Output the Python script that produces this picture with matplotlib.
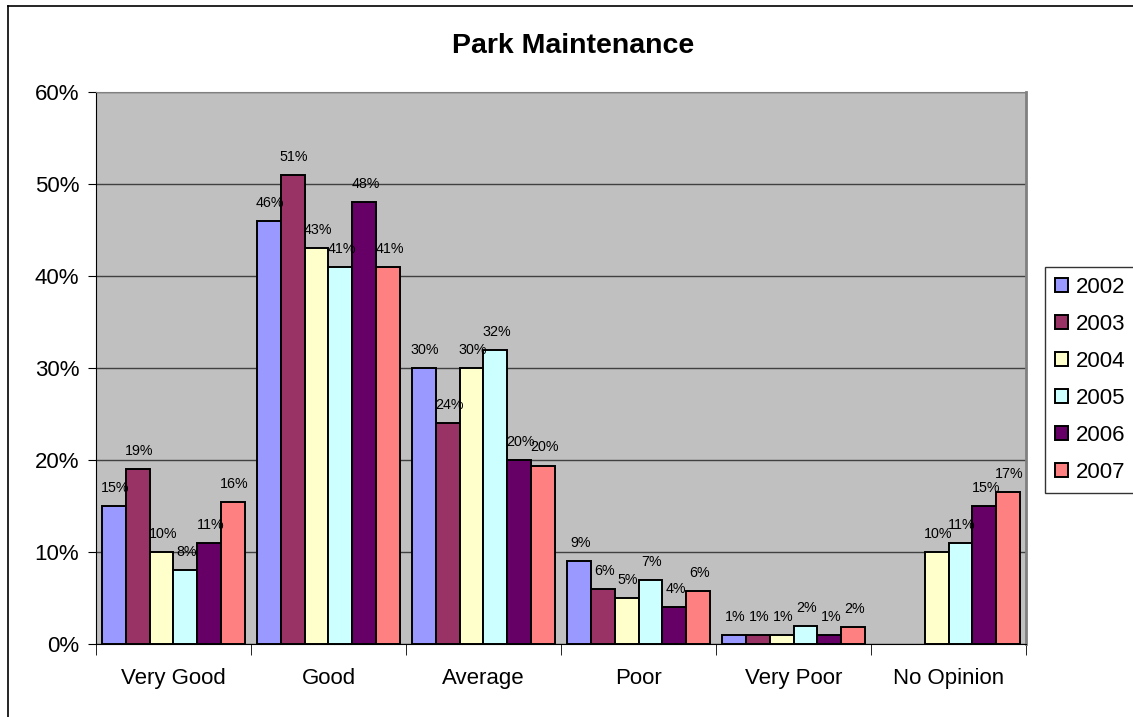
import numpy as np
import matplotlib.pyplot as plt
from matplotlib.lines import Line2D
from matplotlib.ticker import FixedLocator

plt.rcParams['font.family'] = ['Liberation Sans', 'DejaVu Sans']

categories = ['Very Good', 'Good', 'Average', 'Poor', 'Very Poor', 'No Opinion']
years = ['2002', '2003', '2004', '2005', '2006', '2007']

v2002 = [15, 46, 30, 9, 1, np.nan]
v2003 = [19, 51, 24, 6, 1, np.nan]
v2004 = [10, 43, 30, 5, 1, 10]
v2005 = [8, 41, 32, 7, 2, 11]
v2006 = [11, 48, 20, 4, 1, 15]
v2007 = [15.4, 41, 19.4, 5.8, 1.8, 16.5]
# labels as printed on the chart (2007 values were rounded up)
lab2007 = ['16%', '41%', '20%', '6%', '2%', '17%']

series = [v2002, v2003, v2004, v2005, v2006, v2007]
colors = ['#9999FF', '#993366', '#FFFFCC', '#CCFFFF', '#660066', '#FF8080']

fig = plt.figure(figsize=(11.33, 7.17), dpi=100)
ax = fig.add_axes([0.0847, 0.1018, 0.9056 - 0.0847, 0.8717 - 0.1018])
ax.set_facecolor('#C0C0C0')

x = np.arange(len(categories))
w = 0.154
for j, (vals, col, yr) in enumerate(zip(series, colors, years)):
    vals = np.array(vals, dtype=float)
    pos = x + (j - 2.5) * w
    ax.bar(pos, vals, width=w, color=col, edgecolor='black', linewidth=1.4,
           label=yr, zorder=3)
    for k, (px, v) in enumerate(zip(pos, vals)):
        if np.isnan(v):
            continue
        txt = lab2007[k] if yr == '2007' else f'{v:.0f}%'
        ax.annotate(txt, (px, v), xytext=(1, 13), textcoords='offset points',
                    ha='center', va='center', fontsize=10.3, zorder=4)

ax.set_xlim(-0.5, len(categories) - 0.5)
ax.set_ylim(0, 60)
ax.set_yticks(np.arange(0, 61, 10))
ax.set_yticklabels([f'{t}%' for t in range(0, 61, 10)], fontsize=16)
ax.yaxis.grid(True, color='#404040', linewidth=1, zorder=1)
ax.set_axisbelow(True)

ax.set_xticks(x)
ax.set_xticklabels(categories, fontsize=16)
ax.tick_params(axis='x', which='major', length=0, pad=17)
ax.xaxis.set_minor_locator(FixedLocator(np.arange(-0.5, len(categories), 1)))
ax.tick_params(axis='x', which='minor', length=8, direction='out', color='black')
ax.tick_params(axis='y', length=6, direction='out', pad=6)

ax.spines['top'].set_color('#808080')
ax.spines['right'].set_color('#808080')
ax.spines['right'].set_linewidth(2)
ax.spines['left'].set_color('black')
ax.spines['bottom'].set_color('black')

fig.text(0.506, 0.936, 'Park Maintenance', ha='center', va='center',
         fontsize=20.5, fontweight='bold')

leg = ax.legend(loc='upper left', bbox_to_anchor=(1045 / 1133, 1 - 267 / 717),
                bbox_transform=fig.transFigure, fontsize=16, frameon=True,
                fancybox=False, edgecolor='black', handlelength=0.6,
                handleheight=0.6, handletextpad=0.35, labelspacing=0.72,
                borderpad=0.45, borderaxespad=0)
leg.get_frame().set_linewidth(1)

fig.add_artist(Line2D([8 / 1133, 8 / 1133], [0, 1 - 6 / 717], color='black', linewidth=1.2))
fig.add_artist(Line2D([8 / 1133, 1], [1 - 6 / 717, 1 - 6 / 717], color='black', linewidth=1.2))

fig.savefig('out.png', dpi=100)
